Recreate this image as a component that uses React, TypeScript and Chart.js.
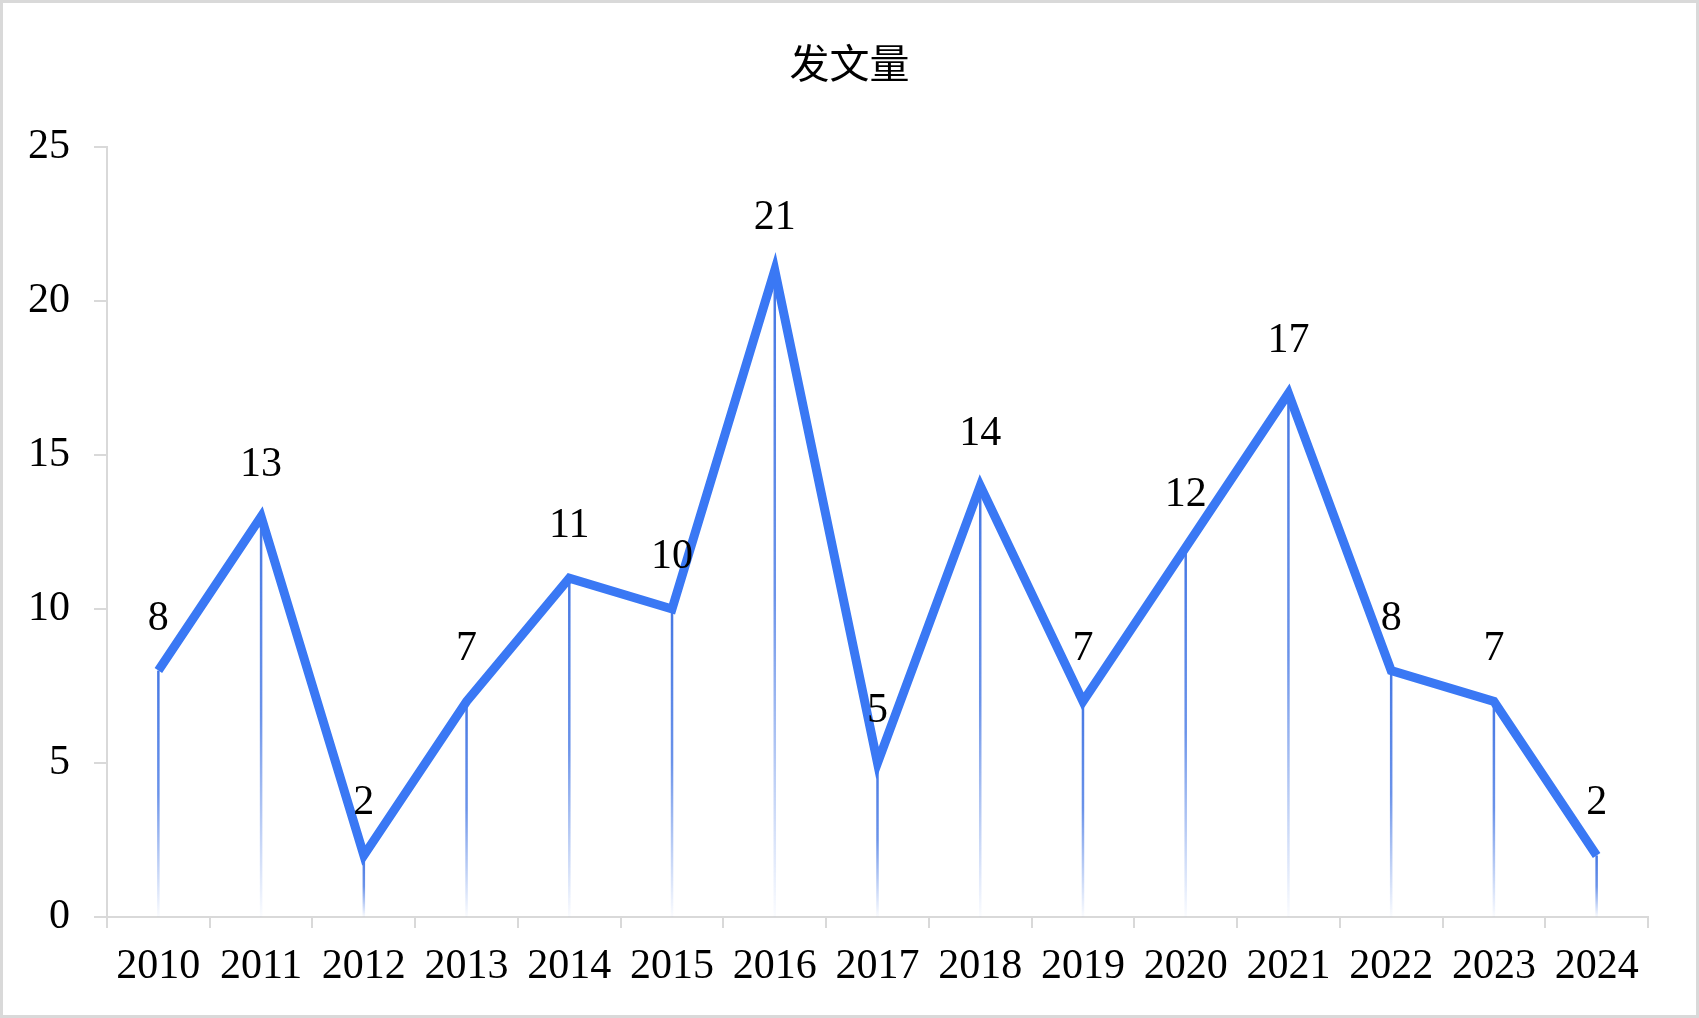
import React, { useEffect, useRef } from "react";
import { Chart, registerables } from "chart.js";

Chart.register(...registerables);

const TITLE = "发文量";
const years = ["2010", "2011", "2012", "2013", "2014", "2015", "2016", "2017", "2018", "2019", "2020", "2021", "2022", "2023", "2024"];
const counts = [8, 13, 2, 7, 11, 10, 21, 5, 14, 7, 12, 17, 8, 7, 2];
const yTicks = [0, 5, 10, 15, 20, 25];

const LINE_COLOR = "#3a78f4";
const AXIS_COLOR = "#d9d9d9";
const FONT_FAMILY = "'Liberation Serif', 'Times New Roman', 'Noto Sans CJK SC', serif";
const LABEL_SIZE = 42;

const dropLines = {
  id: "dropLines",
  beforeDatasetsDraw(chart: any) {
    const ctx = chart.ctx;
    const meta = chart.getDatasetMeta(0);
    const bottom = chart.chartArea.bottom;
    ctx.save();
    meta.data.forEach((pt: any) => {
      const g = ctx.createLinearGradient(0, pt.y, 0, bottom);
      g.addColorStop(0, "rgba(70,120,228,1)");
      g.addColorStop(0.5, "rgba(70,120,228,0.8)");
      g.addColorStop(0.85, "rgba(70,120,228,0.25)");
      g.addColorStop(1, "rgba(70,120,228,0.02)");
      ctx.strokeStyle = g;
      ctx.lineWidth = 2.5;
      ctx.beginPath();
      ctx.moveTo(pt.x, pt.y);
      ctx.lineTo(pt.x, bottom);
      ctx.stroke();
    });
    ctx.restore();
  },
};

const valueLabels = {
  id: "valueLabels",
  afterDatasetsDraw(chart: any) {
    const ctx = chart.ctx;
    const meta = chart.getDatasetMeta(0);
    const values = chart.data.datasets[0].data;
    ctx.save();
    ctx.font = `${LABEL_SIZE}px ${FONT_FAMILY}`;
    ctx.fillStyle = "#000";
    ctx.textAlign = "center";
    ctx.textBaseline = "middle";
    meta.data.forEach((pt: any, i: number) => {
      ctx.fillText(String(values[i]), pt.x, pt.y - 52);
    });
    ctx.restore();
  },
};

const frame = {
  id: "frame",
  afterDraw(chart: any) {
    const ctx = chart.ctx;
    ctx.save();
    ctx.strokeStyle = AXIS_COLOR;
    ctx.lineWidth = 3;
    ctx.strokeRect(1.5, 1.5, chart.width - 3, chart.height - 3);
    ctx.restore();
  },
};

export default function App() {
  const ref = useRef<HTMLCanvasElement | null>(null);
  useEffect(() => {
    document.body.style.margin = "0";
    document.body.style.overflow = "hidden";
    const canvas = ref.current;
    if (!canvas) return;
    const chart = new Chart(canvas, {
      type: "line",
      data: {
        labels: years,
        datasets: [
          {
            data: counts,
            borderColor: LINE_COLOR,
            borderWidth: 9,
            pointRadius: 0,
            pointHoverRadius: 0,
            tension: 0,
            fill: false,
            borderJoinStyle: "miter",
            borderCapStyle: "butt",
          } as any,
        ],
      },
      options: {
        responsive: false,
        animation: false,
        devicePixelRatio: 1,
        layout: { padding: { left: 0, right: 0, top: 0, bottom: 0 } },
        plugins: {
          legend: { display: false },
          tooltip: { enabled: false },
          title: {
            display: true,
            text: TITLE,
            color: "#000",
            font: { family: FONT_FAMILY, size: 40, weight: "normal" as any, lineHeight: 1.2 },
            padding: { top: 43, bottom: 56 },
          },
        },
        scales: {
          x: {
            offset: true,
            grid: {
              offset: true,
              drawOnChartArea: false,
              drawTicks: true,
              tickLength: 11,
              color: AXIS_COLOR,
              lineWidth: 2,
            },
            border: { color: AXIS_COLOR, width: 2 },
            ticks: {
              color: "#000",
              font: { family: FONT_FAMILY, size: LABEL_SIZE },
              padding: 14,
              maxRotation: 0,
              autoSkip: false,
            },
            afterFit: (s: any) => {
              s.height = 101;
            },
          },
          y: {
            min: yTicks[0],
            max: yTicks[yTicks.length - 1],
            afterBuildTicks: (s: any) => {
              s.ticks = yTicks.map((v) => ({ value: v }));
            },
            grid: {
              drawOnChartArea: false,
              drawTicks: true,
              tickLength: 13,
              color: AXIS_COLOR,
              lineWidth: 2,
            },
            border: { color: AXIS_COLOR, width: 2 },
            ticks: {
              color: "#000",
              font: { family: FONT_FAMILY, size: LABEL_SIZE },
              padding: 24,
            },
            afterFit: (s: any) => {
              s.width = 107;
            },
          },
          spacer: {
            type: "linear",
            position: "right",
            display: true,
            grid: { display: false, drawTicks: false },
            border: { display: false },
            ticks: { display: false },
            afterFit: (s: any) => {
              s.width = 51;
            },
          } as any,
        },
      },
      plugins: [dropLines, valueLabels, frame],
    });
    return () => chart.destroy();
  }, []);
  return <canvas ref={ref} width={1699} height={1018} style={{ display: "block" }} />;
}
